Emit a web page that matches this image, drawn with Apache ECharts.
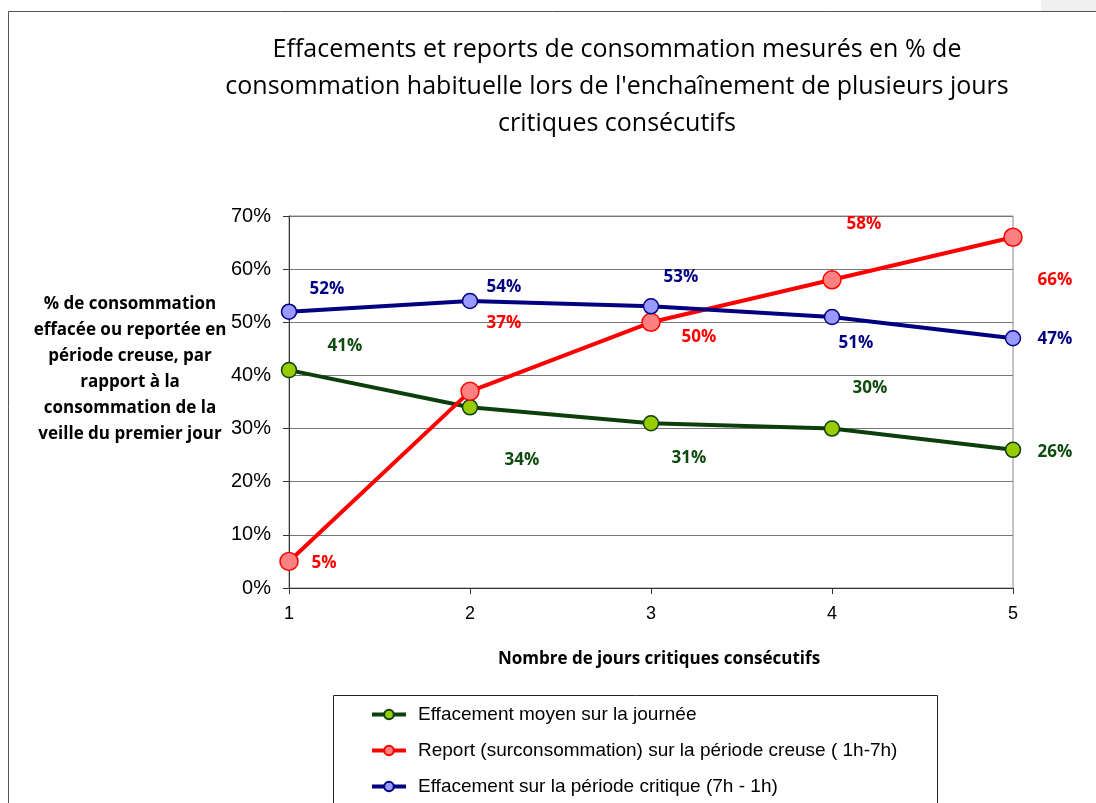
<!DOCTYPE html>
<html>
<head>
<meta charset="utf-8">
<script src="https://cdn.jsdelivr.net/npm/echarts@6/dist/echarts.min.js"></script>
<style>
  html, body { margin: 0; padding: 0; background: #fff; }
  #main { width: 1096px; height: 803px; }
</style>
</head>
<body>
<div id="main"></div>
<script>
// donnees du graphique
var jours = ["1", "2", "3", "4", "5"];
var effacementJournee = [41, 34, 31, 30, 26];
var reportCreuse = [5, 37, 50, 58, 66];
var effacementCritique = [52, 54, 53, 51, 47];
var yTicks = [0, 10, 20, 30, 40, 50, 60, 70];

var seriesNames = [
  "Effacement moyen sur la journée",
  "Report (surconsommation) sur la période creuse ( 1h-7h)",
  "Effacement sur la période critique (7h - 1h)"
];

// decalage des etiquettes (deplacees a la main dans l'original)
var offsetsVert = [[56, -24], [52, 53], [38, 35], [38, -40], [42, 2]];
var offsetsRouge = [[35, 2], [34, -68], [48, 15], [32, -56], [42, 43]];
var offsetsBleu = [[38, -23], [34, -14], [30, -29], [24, 26], [42, 1]];

function withLabels(values, offsets) {
  return values.map(function (v, i) {
    return { value: v, label: { offset: offsets[i] } };
  });
}

function lineSerie(name, values, offsets, lineColor, fill, size, labelColor) {
  return {
    name: name,
    type: "line",
    data: withLabels(values, offsets),
    symbol: "circle",
    symbolSize: size,
    lineStyle: { color: lineColor, width: 4 },
    itemStyle: { color: fill, borderColor: lineColor, borderWidth: 1.5 },
    label: {
      show: true,
      position: "inside",
      formatter: "{c}%",
      color: labelColor,
      fontFamily: "Open Sans",
      fontWeight: "bold",
      fontSize: 17
    },
    z: 3
  };
}

var option = {
  animation: false,
  backgroundColor: "#fff",
  title: {
    text: "Effacements et reports de consommation mesurés en % de\nconsommation habituelle lors de l'enchaînement de plusieurs jours\ncritiques consécutifs",
    left: 612,
    top: 26,
    textAlign: "center",
    textStyle: {
      fontFamily: "Open Sans",
      fontWeight: "normal",
      fontSize: 25,
      lineHeight: 37,
      color: "#000"
    }
  },
  graphic: [
    { type: "rect", shape: { x: 1041, y: 0, width: 60, height: 11 }, style: { fill: "#f0f0f0" }, silent: true },
    { type: "rect", shape: { x: 8.5, y: 11.5, width: 1100, height: 800 }, style: { fill: "none", stroke: "#555", lineWidth: 1 }, silent: true },
    { type: "rect", shape: { x: 333.5, y: 695.5, width: 604, height: 120 }, style: { fill: "none", stroke: "#222", lineWidth: 1 }, silent: true },
    {
      type: "text",
      x: 130,
      y: 291,
      style: {
        text: "% de consommation\neffacée ou reportée en\npériode creuse, par\nrapport à la\nconsommation de la\nveille du premier jour",
        align: "center",
        verticalAlign: "top",
        fontFamily: "Open Sans",
        fontWeight: "bold",
        fontSize: 17,
        lineHeight: 26,
        fill: "#000"
      }
    }
  ],
  legend: {
    orient: "vertical",
    left: 370,
    top: 705,
    padding: 0,
    itemWidth: 34,
    itemHeight: 12,
    itemGap: 17,
    data: seriesNames,
    lineStyle: { width: 4 },
    textStyle: { fontFamily: "Liberation Sans", fontSize: 19, color: "#000", padding: [0, 0, 0, 7] }
  },
  grid: {
    left: 289,
    right: 83,
    top: 216,
    bottom: 215,
    show: true,
    borderColor: "#888",
    borderWidth: 1
  },
  xAxis: {
    type: "category",
    data: jours,
    boundaryGap: false,
    name: "Nombre de jours critiques consécutifs",
    nameLocation: "middle",
    nameGap: 63,
    nameTextStyle: { fontFamily: "Open Sans", fontWeight: "bold", fontSize: 17, color: "#000", padding: [0, 0, 0, 16] },
    axisLine: { lineStyle: { color: "#333", width: 1 } },
    axisTick: { show: true, length: 6, alignWithLabel: true, lineStyle: { color: "#333" } },
    axisLabel: { fontFamily: "Liberation Sans", fontSize: 18, color: "#000", margin: 17 },
    splitLine: { show: false }
  },
  yAxis: {
    type: "value",
    min: yTicks[0],
    max: yTicks[yTicks.length - 1],
    interval: 10,
    axisLine: { show: true, lineStyle: { color: "#333", width: 1 } },
    axisTick: { show: true, length: 6, lineStyle: { color: "#333" } },
    axisLabel: { fontFamily: "Liberation Sans", fontSize: 20, color: "#000", margin: 18, formatter: "{value}%" },
    splitLine: { show: true, lineStyle: { color: "#777", width: 1 } }
  },
  series: [
    lineSerie(seriesNames[0], effacementJournee, offsetsVert, "#0d3f0d", "#99cc00", 15, "#0d4a0d"),
    lineSerie(seriesNames[1], reportCreuse, offsetsRouge, "#ff0000", "#ff8080", 18, "#ff0000"),
    lineSerie(seriesNames[2], effacementCritique, offsetsBleu, "#000080", "#9999ff", 15, "#000080")
  ]
};

var chart = echarts.init(document.getElementById("main"), null, { renderer: "canvas" });
chart.setOption(option);
</script>
</body>
</html>
